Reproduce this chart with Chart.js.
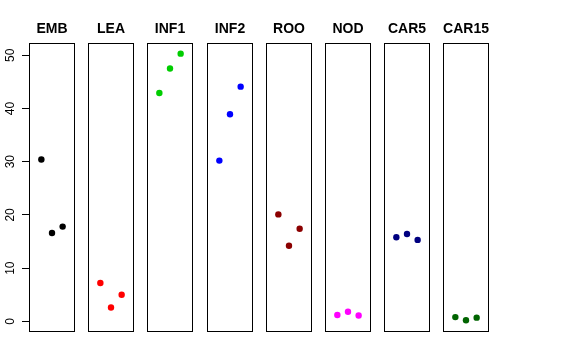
<!DOCTYPE html>
<html>
<head>
<meta charset="utf-8">
<script src="https://cdn.jsdelivr.net/npm/chart.js@4"></script>
<style>
  body { margin: 0; background: #fff; }
  #wrap { position: relative; width: 576px; height: 360px; overflow: hidden; }
  #wrap canvas { position: absolute; }
</style>
</head>
<body>
<div id="wrap"></div>
<script>
// Data
const panels = ['EMB', 'LEA', 'INF1', 'INF2', 'ROO', 'NOD', 'CAR5', 'CAR15'];
const reps = [1, 2, 3];
const EMB = [30.4, 16.6, 17.8];
const LEA = [7.2, 2.6, 5.0];
const INF1 = [42.9, 47.5, 50.3];
const INF2 = [30.2, 38.9, 44.1];
const ROO = [20.1, 14.2, 17.4];
const NOD = [1.2, 1.8, 1.1];
const CAR5 = [15.8, 16.4, 15.3];
const CAR15 = [0.8, 0.2, 0.7];
const seriesValues = [EMB, LEA, INF1, INF2, ROO, NOD, CAR5, CAR15];
const colors = ['#000000', '#ff0000', '#00cd00', '#0000ff', '#8b0000', '#ff00ff', '#000080', '#006400'];
const yTicks = [0, 10, 20, 30, 40, 50];

const FONT = "'Liberation Sans', Arial, Helvetica, sans-serif";
const wrap = document.getElementById('wrap');

// Draw the box around each panel
const boxPlugin = {
    id: 'box',
    afterDraw(chart) {
        const a = chart.chartArea;
        const c = chart.ctx;
        c.save();
        c.strokeStyle = '#000';
        c.lineWidth = 1;
        c.strokeRect(Math.round(a.left) + 0.5, Math.round(a.top) + 0.5,
            Math.round(a.right - a.left) - 1, Math.round(a.bottom - a.top) - 1);
        c.restore();
    }
};

const axisW = 29;
const canvasTop = 15;
const panelW = 46;
const canvasH = 317;

panels.forEach((name, i) => {
    const first = i === 0;
    const left = Math.round(29 + 59.2 * i);
    const canvas = document.createElement('canvas');
    const w = first ? panelW + axisW : panelW;
    canvas.width = w;
    canvas.height = canvasH;
    canvas.style.left = (first ? left - axisW : left) + 'px';
    canvas.style.top = canvasTop + 'px';
    canvas.style.width = w + 'px';
    canvas.style.height = canvasH + 'px';
    wrap.appendChild(canvas);

    const yAxis = {
        display: first,
        min: -2.0,
        max: 52.3,
        afterBuildTicks(scale) { scale.ticks = yTicks.map(v => ({ value: v })); },
        border: { display: false },
        grid: { drawOnChartArea: false, drawTicks: true, tickLength: 7, color: '#000', lineWidth: 1 },
        ticks: {
            minRotation: 90,
            maxRotation: 90,
            crossAlign: 'center',
            padding: 5,
            color: '#000',
            font: { family: FONT, size: 12 }
        }
    };
    if (first) {
        yAxis.afterFit = (scale) => {
            scale.width = axisW;
            scale.paddingTop = 0;
            scale.paddingBottom = 0;
        };
    }

    new Chart(canvas.getContext('2d'), {
        type: 'scatter',
        data: {
            datasets: [{
                data: reps.map((r, j) => ({ x: r, y: seriesValues[i][j] })),
                backgroundColor: colors[i],
                borderColor: colors[i],
                pointRadius: 3.2,
                pointBorderWidth: 0
            }]
        },
        options: {
            responsive: false,
            animation: false,
            events: [],
            layout: { padding: 0, autoPadding: false },
            scales: {
                x: { display: false, min: -0.16, max: 4.16 },
                y: yAxis
            },
            plugins: {
                legend: { display: false },
                tooltip: { enabled: false },
                title: {
                    display: true,
                    text: name,
                    fullSize: false,
                    color: '#000',
                    font: { family: FONT, size: 14, weight: 'bold', lineHeight: 1 },
                    padding: { top: 7, bottom: 7 }
                }
            }
        },
        plugins: [boxPlugin]
    });
});
</script>
</body>
</html>
